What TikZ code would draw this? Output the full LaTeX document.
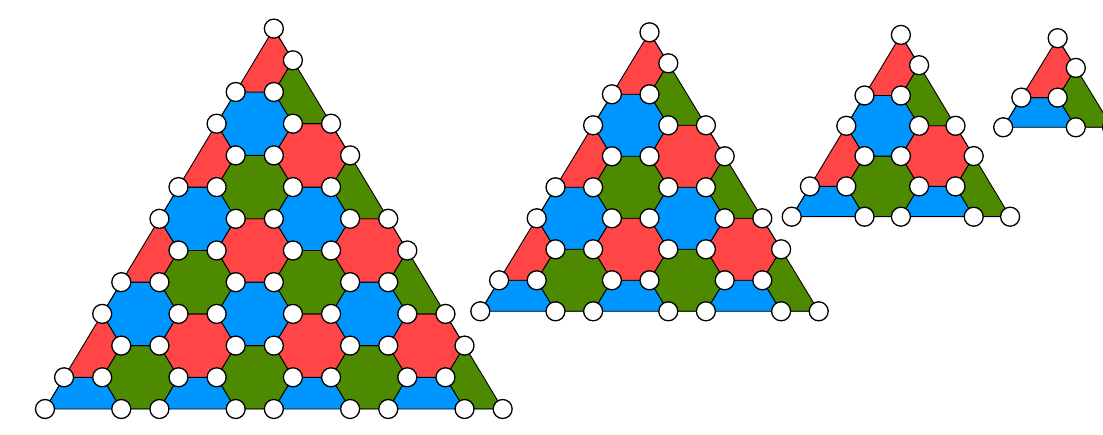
\documentclass[tikz,border=0pt]{standalone}
\usepackage{tikz}
\definecolor{hexcol0}{HTML}{0096FF}
\definecolor{hexcol1}{HTML}{4E8A00}
\definecolor{hexcol2}{HTML}{FF4545}

% #1,#2 lower left corner, #3 hexagon side, #4 row height, #5 side in hexagon sides
\newcommand{\hextri}[5]{%
  \begin{scope}[shift={(#1pt,#2pt)}, x=#3pt, y=#4pt]
    \begin{scope}
      \clip (0,0) -- (#5,0) -- (#5/2,#5) -- cycle;
      \pgfmathtruncatemacro\kmax{#5/3+2}
      \foreach \row in {0,...,#5} {
        \pgfmathtruncatemacro\tone{mod(\row,3)}
        \pgfmathsetmacro\xs{mod(1+1.5*\row,3)-3}
        \foreach \cc in {0,...,\kmax} {
          \pgfmathsetmacro\cx{\xs+3*\cc}
          \filldraw[hexcell, fill=hexcol\tone] (\cx-1,\row) -- (\cx-0.5,\row+1) -- (\cx+0.5,\row+1)
            -- (\cx+1,\row) -- (\cx+0.5,\row-1) -- (\cx-0.5,\row-1) -- cycle;
        }
      }
    \end{scope}
    \draw[hexcell] (0,0) -- (#5,0) -- (#5/2,#5) -- cycle;
    \foreach \row in {0,...,#5} {
      \pgfmathtruncatemacro\last{#5-\row}
      \foreach \cc in {0,...,\last} {
        \pgfmathtruncatemacro\m{mod(\row+2*\cc,3)}
        \ifnum\m=2 \else \draw[vtx] (\row/2+\cc,\row) circle[radius=9.5pt]; \fi
      }
    }
  \end{scope}}

\begin{document}
\begin{tikzpicture}[x=1pt, y=1pt, hexcell/.style={draw=black, line width=0.9pt}, vtx/.style={draw=black, fill=white, line width=1.3pt}]
\useasboundingbox (0,0) rectangle (1103,434);
\hextri{45}{25}{38.14}{31.7}{12}
\hextri{480.3}{122.7}{37.6}{31.0}{9}
\hextri{791.7}{217.3}{36.4}{30.3}{6}
\hextri{1003.2}{306.7}{36.3}{29.7}{3}
\end{tikzpicture}
\end{document}
